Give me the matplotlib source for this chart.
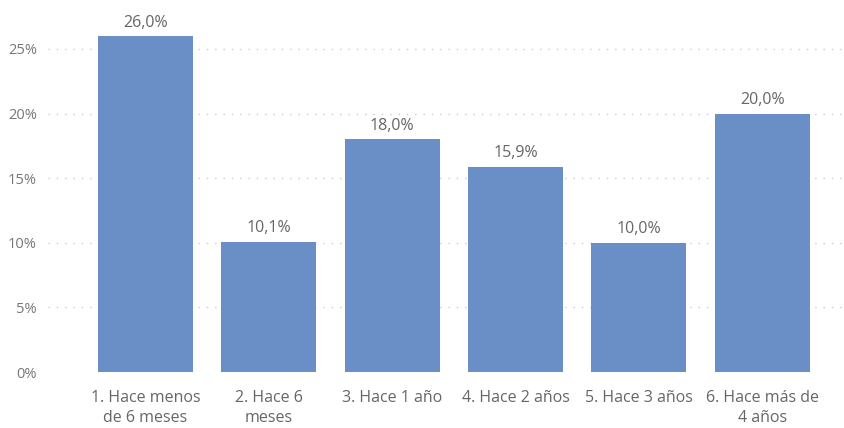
import matplotlib
matplotlib.use("Agg")
import matplotlib.pyplot as plt
from matplotlib.ticker import FuncFormatter

categories = ["1. Hace menos\nde 6 meses", "2. Hace 6\nmeses", "3. Hace 1 año",
              "4. Hace 2 años", "5. Hace 3 años", "6. Hace más de\n4 años"]
values = [26.0, 10.1, 18.0, 15.9, 10.0, 20.0]
yticks = [0, 5, 10, 15, 20, 25]

plt.rcParams['font.family'] = ['Open Sans', 'DejaVu Sans']

fig = plt.figure(figsize=(8.44, 4.28), dpi=100)
ax = fig.add_axes([48/844, 1-372/428, (843-48)/844, (372-20)/428])

x = list(range(len(categories)))
bars = ax.bar(x, values, width=0.77, color="#6A8FC7", zorder=2)
for xi, v in zip(x, values):
    ax.annotate(f"{v:.1f}%".replace(".", ","), (xi, v), xytext=(0, 4),
                textcoords="offset points", ha="center", va="bottom",
                fontsize=11.5, color="#666666")

ax.set_xlim(-0.79, 5.655)
ax.set_ylim(0, 352/12.92)
ax.set_yticks(yticks)
ax.yaxis.set_major_formatter(FuncFormatter(lambda v, p: f"{int(v)}%"))
ax.set_xticks(x)
ax.set_xticklabels(categories, fontsize=11.5, color="#666666", linespacing=1.35)
ax.tick_params(axis="y", length=0, pad=8, labelsize=10.5, labelcolor="#777777")
ax.tick_params(axis="x", length=0, pad=13)
ax.grid(axis="y", linestyle=(0, (1, 5)), color="#cccccc", linewidth=1, zorder=0)
for s in ax.spines.values():
    s.set_visible(False)

fig.savefig("out.png", dpi=100)
